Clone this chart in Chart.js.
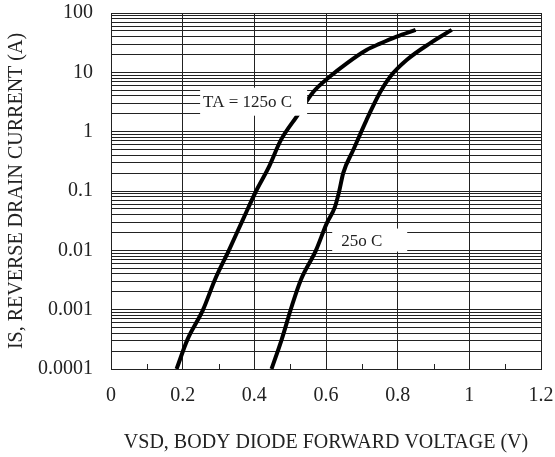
<!DOCTYPE html>
<html>
<head>
<meta charset="utf-8">
<script src="https://cdn.jsdelivr.net/npm/chart.js@4"></script>
<style>
  html, body { margin: 0; padding: 0; background: #fff; }
  #wrap { width: 555px; height: 457px; }
</style>
</head>
<body>
<div id="wrap"><canvas id="chart" width="555" height="457"></canvas></div>
<script>
const vsd125 = [0.183, 0.213, 0.257, 0.290, 0.329, 0.370, 0.405, 0.440, 0.474, 0.518, 0.565, 0.611, 0.658, 0.713, 0.751, 0.797, 0.850];
const is125  = [0.0001, 0.00031, 0.001, 0.0032, 0.01, 0.035, 0.1, 0.25, 0.72, 1.8, 4.7, 8.5, 14.2, 23.8, 30.5, 40, 52];
const vsd25  = [0.448, 0.476, 0.504, 0.530, 0.572, 0.602, 0.625, 0.637, 0.648, 0.676, 0.713, 0.751, 0.779, 0.825, 0.890, 0.951];
const is25   = [0.0001, 0.00031, 0.00112, 0.0032, 0.01, 0.0285, 0.054, 0.1, 0.2, 0.49, 1.57, 4.6, 8.45, 16.1, 30.8, 52];

const yDecades = [0.0001, 0.001, 0.01, 0.1, 1, 10, 100];
const yLabels = ['0.0001', '0.001', '0.01', '0.1', '1', '10', '100'];
const xLabels = ['0', '0.2', '0.4', '0.6', '0.8', '1', '1.2'];

const labels = [
  { text: 'TA = 125o C', x: 0.398, y: 3.2, w: 107, h: 28, inset: 3 },
  { text: '25o C', x: 0.722, y: 0.0149, w: 75, h: 23, inset: 9 }
];

const serif = '"Liberation Serif", "DejaVu Serif", serif';
const ink = '#222';

const toPts = (xs, ys) => xs.map((x, i) => ({ x, y: ys[i] }));

const extras = {
  id: 'extras',
  afterDatasetsDraw(chart) {
    const { ctx, scales: { x, y }, chartArea } = chart;
    ctx.save();
    // short ticks at the odd tenths
    ctx.strokeStyle = ink;
    ctx.lineWidth = 1;
    for (let i = 1; i < 12; i += 2) {
      const px = Math.round(x.getPixelForValue(i / 10)) + 0.5;
      ctx.beginPath();
      ctx.moveTo(px, chartArea.bottom);
      ctx.lineTo(px, chartArea.bottom - 5);
      ctx.stroke();
    }
    // label boxes
    ctx.font = '17px ' + serif;
    ctx.textAlign = 'left';
    ctx.textBaseline = 'middle';
    labels.forEach(l => {
      const cx = x.getPixelForValue(l.x);
      const cy = y.getPixelForValue(l.y);
      ctx.fillStyle = '#fff';
      ctx.fillRect(cx - l.w / 2, cy - l.h / 2, l.w, l.h);
      ctx.fillStyle = ink;
      ctx.fillText(l.text, cx - l.w / 2 + l.inset, cy + 1);
    });
    ctx.restore();
  }
};

new Chart(document.getElementById('chart'), {
  type: 'scatter',
  data: {
    datasets: [
      { label: '125', data: toPts(vsd125, is125), showLine: true, borderColor: '#000', borderWidth: 4, pointRadius: 0, cubicInterpolationMode: 'monotone' },
      { label: '25', data: toPts(vsd25, is25), showLine: true, borderColor: '#000', borderWidth: 4, pointRadius: 0, cubicInterpolationMode: 'monotone' }
    ]
  },
  options: {
    responsive: false,
    animation: false,
    layout: { padding: { top: 13, right: 14, left: 0, bottom: 0 } },
    plugins: { legend: { display: false }, tooltip: { enabled: false } },
    scales: {
      x: {
        type: 'linear',
        min: 0,
        max: 1.2,
        afterFit: s => { s.height = 88; s.paddingLeft = 0; s.paddingRight = 0; },
        afterBuildTicks: s => { s.ticks = Array.from({ length: 13 }, (_, i) => ({ value: i / 10 })); },
        ticks: {
          padding: 15,
          maxRotation: 0,
          autoSkip: false,
          color: ink,
          font: { family: serif, size: 20 },
          callback: (v, i) => i % 2 === 0 ? xLabels[i / 2] : ''
        },
        grid: {
          drawTicks: false,
          color: c => c.index % 2 === 0 ? ink : 'rgba(0,0,0,0)',
          lineWidth: 1
        },
        border: { color: ink, width: 1 },
        title: {
          display: true,
          text: 'VSD, BODY DIODE FORWARD VOLTAGE (V)',
          color: ink,
          font: { family: serif, size: 20 },
          padding: { top: 0, bottom: 2 }
        }
      },
      y: {
        type: 'logarithmic',
        min: 0.0001,
        max: 100,
        afterFit: s => { s.width = 111; s.paddingTop = 0; s.paddingBottom = 0; },
        afterBuildTicks: s => {
          const t = [];
          yDecades.forEach(d => {
            for (let k = 1; k <= 9; k++) {
              if (d * k <= 100.0001) t.push({ value: d * k });
              if (d === 100) break;
            }
          });
          s.ticks = t;
        },
        ticks: {
          padding: 18,
          autoSkip: false,
          color: ink,
          font: { family: serif, size: 20 },
          callback: v => {
            const i = yDecades.findIndex(d => Math.abs(v - d) / d < 1e-6);
            return i >= 0 ? yLabels[i] : '';
          }
        },
        grid: { drawTicks: false, color: ink, lineWidth: 1 },
        border: { color: ink, width: 1 },
        title: {
          display: true,
          text: 'IS, REVERSE DRAIN CURRENT (A)',
          color: ink,
          font: { family: serif, size: 20 },
          padding: { top: 5, bottom: 0 }
        }
      }
    }
  },
  plugins: [extras]
});
</script>
</body>
</html>
